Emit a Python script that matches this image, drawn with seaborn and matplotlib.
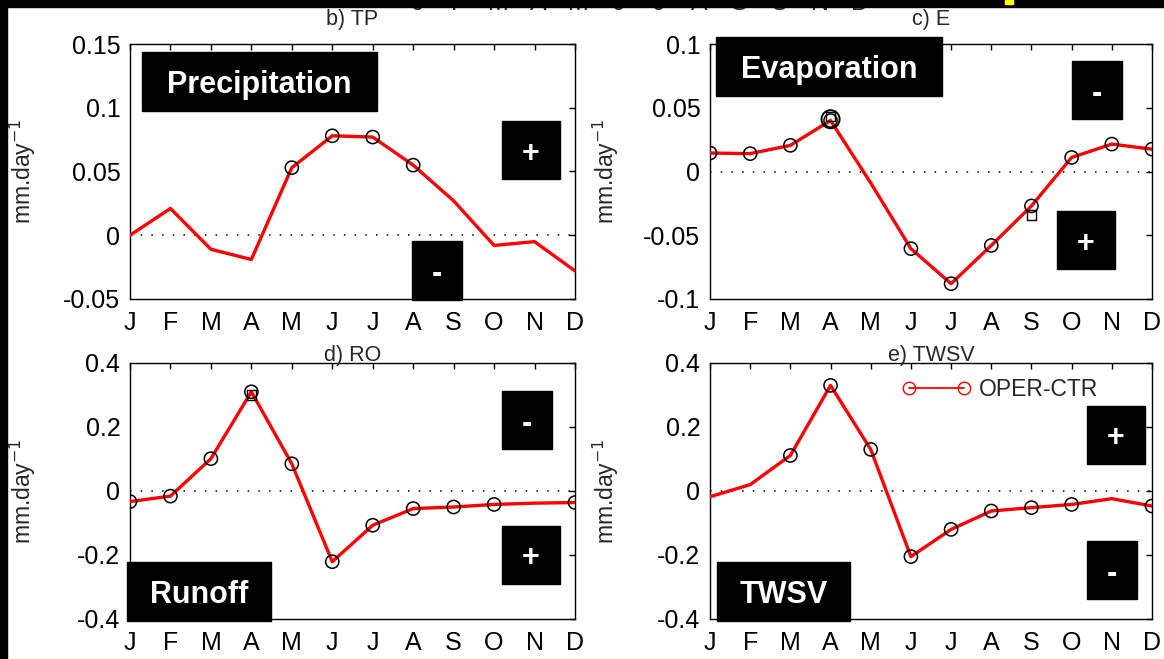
import matplotlib
matplotlib.use("Agg")
import matplotlib.pyplot as plt
from matplotlib.patches import Rectangle
from matplotlib.lines import Line2D
import seaborn as sns
import pandas as pd

months = ["J", "F", "M", "A", "M", "J", "J", "A", "S", "O", "N", "D"]

tp = [0.0, 0.021, -0.011, -0.019, 0.053, 0.078, 0.077, 0.055, 0.027, -0.008, -0.005, -0.028]
tp_sig = [4, 5, 6, 7]

e = [0.0145, 0.014, 0.0205, 0.040, -0.009, -0.0605, -0.088, -0.058, -0.027, 0.011, 0.0215, 0.0175]
e_sig = [0, 1, 2, 3, 5, 6, 7, 8, 9, 10, 11]
e_sq_idx = [3, 8]
e_sq = [0.043, -0.034]

ro = [-0.033, -0.016, 0.101, 0.31, 0.085, -0.221, -0.107, -0.055, -0.050, -0.042, -0.038, -0.036]
ro_sig = [0, 1, 2, 3, 4, 5, 6, 7, 8, 9, 11]
ro_sq_idx = [3]
ro_sq = [0.30]

twsv = [-0.018, 0.020, 0.111, 0.330, 0.130, -0.205, -0.120, -0.0625, -0.052, -0.042, -0.024, -0.047]
twsv_sig = [2, 3, 4, 5, 6, 7, 8, 9, 11]

sns.set_style("white")
plt.rcParams["font.family"] = ["Liberation Sans", "DejaVu Sans"]

W, H = 1164, 659
fig = plt.figure(figsize=(W / 100, H / 100), dpi=100)
fig.patch.set_facecolor("white")


def px_axes(left, top, right, bottom):
    return fig.add_axes([left / W, 1 - bottom / H, (right - left) / W, (bottom - top) / H])


def box(x0, y0, x1, y1, label, size):
    fig.add_artist(Rectangle((x0 / W, 1 - y1 / H), (x1 - x0) / W, (y1 - y0) / H,
                             transform=fig.transFigure, color="black", zorder=20))
    fig.text((x0 + x1) / 2 / W, 1 - (y0 + y1) / 2 / H, label, color="white",
             fontsize=size, fontweight="bold", ha="center", va="center_baseline", zorder=21)


panels = [
    ("b) TP", tp, tp_sig, None, None, (-0.05, 0.15), [-0.05, 0, 0.05, 0.1, 0.15],
     ["-0.05", "0", "0.05", "0.1", "0.15"], (130, 44, 575, 299), -0.207, 14),
    ("c) E", e, e_sig, e_sq_idx, e_sq, (-0.1, 0.1), [-0.1, -0.05, 0, 0.05, 0.1],
     ["-0.1", "-0.05", "0", "0.05", "0.1"], (710, 44, 1152, 299), -0.202, 14),
    ("d) RO", ro, ro_sig, ro_sq_idx, ro_sq, (-0.4, 0.4), [-0.4, -0.2, 0, 0.2, 0.4],
     ["-0.4", "-0.2", "0", "0.2", "0.4"], (130, 363, 575, 619), -0.207, 1.5),
    ("e) TWSV", twsv, twsv_sig, None, None, (-0.4, 0.4), [-0.4, -0.2, 0, 0.2, 0.4],
     ["-0.4", "-0.2", "0", "0.2", "0.4"], (710, 363, 1152, 619), -0.202, 1.5),
]

axes = []
for title, vals, sig, sq_idx, sq_vals, ylim, yt, ytl, pos, ylab_x, tpad in panels:
    ax = px_axes(*pos)
    axes.append(ax)
    df = pd.DataFrame({"m": range(12), "v": vals})
    ax.axhline(0, color="black", ls=(0, (1, 6)), lw=1.1, zorder=1)
    sns.lineplot(data=df, x="m", y="v", color="red", lw=2.4, ax=ax, zorder=3)
    dsig = df.iloc[sig]
    sns.scatterplot(data=dsig, x="m", y="v", marker="o", s=90, facecolor="none",
                    edgecolor="black", linewidth=1.1, ax=ax, zorder=4)
    if sq_idx is not None:
        dsq = pd.DataFrame({"m": sq_idx, "v": sq_vals})
        sns.scatterplot(data=dsq, x="m", y="v", marker="s", s=45, facecolor="none",
                        edgecolor="black", linewidth=1.0, ax=ax, zorder=4)
    ax.set_xlim(0, 11)
    ax.set_ylim(*ylim)
    ax.set_xticks(range(12))
    ax.set_xticklabels(months)
    ax.set_yticks(yt)
    ax.set_yticklabels(ytl)
    ax.tick_params(direction="in", length=4, width=1, top=True, right=True,
                   labelsize=18, colors="black")
    ax.tick_params(axis="x", pad=9)
    ax.tick_params(axis="y", pad=7)
    for sp in ax.spines.values():
        sp.set_color("black")
        sp.set_linewidth(1.0)
    ax.set_xlabel("")
    ax.set_ylabel("mm.day$^{-1}$", fontsize=16.5)
    ax.yaxis.set_label_coords(ylab_x, 0.5)
    ax.set_title(title, fontsize=15.5, pad=tpad)

# enlarged circle at April in the E panel
sns.scatterplot(x=[3], y=[e[3] + 0.001], marker="o", s=170, facecolor="none",
                edgecolor="black", linewidth=1.4, ax=axes[1], zorder=5)

handle = Line2D([], [], color="red", lw=1.3, marker="o", mfc="none", mec="red", ms=9)
axes[3].legend([handle], ["OPER-CTR"], loc="center left", bbox_to_anchor=(0.435, 0.895),
               frameon=False, numpoints=2, handlelength=3.0, handletextpad=0.35,
               borderpad=0, borderaxespad=0, fontsize=16.5)

# overlay label boxes
box(142, 52, 377, 111, "Precipitation", 22)
box(502, 121, 560, 179, "+", 22)
box(412, 241, 462, 300, "-", 22)
box(716, 37, 942, 96, "Evaporation", 22)
box(1072, 61, 1122, 119, "-", 22)
box(1057, 211, 1115, 269, "+", 22)
box(127, 562, 271, 621, "Runoff", 22)
box(502, 391, 552, 449, "-", 22)
box(502, 526, 560, 584, "+", 22)
box(717, 562, 850, 621, "TWSV", 22)
box(1087, 406, 1145, 464, "+", 22)
box(1087, 541, 1137, 599, "-", 22)

# cut-off month labels of the panels above, and the dark frame of the screenshot
for i, m in enumerate(months):
    fig.text((418 + i * 40.2) / W, 1 - 10 / H, m, fontsize=18, ha="center", va="baseline", zorder=15)
fig.add_artist(Rectangle((0, 1 - 7 / H), 1, 7 / H, transform=fig.transFigure,
                         color="black", zorder=30))
fig.add_artist(Rectangle((0, 0), 7 / W, 1, transform=fig.transFigure,
                         color="black", zorder=30))
fig.add_artist(Rectangle((1005 / W, 1 - 4 / H), 8 / W, 4 / H, transform=fig.transFigure,
                         color="yellow", zorder=31))

fig.savefig("out.png", dpi=100, facecolor=fig.get_facecolor())
